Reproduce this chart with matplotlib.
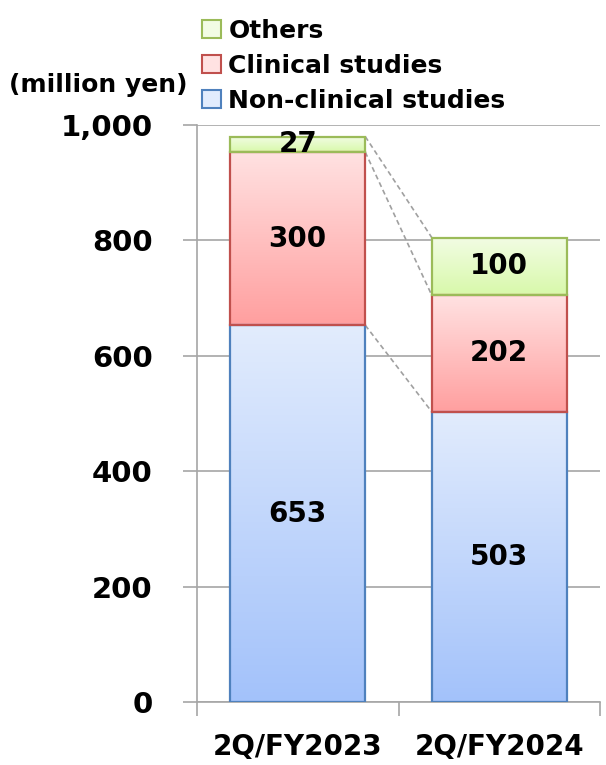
import numpy as np
import matplotlib.pyplot as plt
from matplotlib.colors import LinearSegmentedColormap
from matplotlib.patches import Rectangle, Patch

plt.rcParams['font.family'] = ['DejaVu Sans']
plt.rcParams['font.weight'] = 'bold'

periods = ["2Q/FY2023", "2Q/FY2024"]
non_clinical = [653, 503]
clinical = [300, 202]
others = [27, 100]

series = [
    ("Non-clinical studies", non_clinical, "#E2ECFD", "#A3C2FA", "#4F81BD"),
    ("Clinical studies", clinical, "#FFE2E2", "#FF9F9F", "#C0504D"),
    ("Others", others, "#F2FCE4", "#D8F9AA", "#9BBB59"),
]

fig = plt.figure(figsize=(6.06, 7.65), dpi=100)
ax = fig.add_axes([197 / 606, 1 - 702 / 765, 403 / 606, 577 / 765])

x = np.arange(len(periods))
width = 0.67
bottoms = np.zeros(len(periods))
tops = []
handles = []
grad = np.linspace(0, 1, 256).reshape(-1, 1)

for name, vals, c_top, c_bot, edge in series:
    cmap = LinearSegmentedColormap.from_list(name, [c_bot, c_top])
    bars = ax.bar(x, vals, width, bottom=bottoms, color="none",
                  edgecolor=edge, linewidth=1.6, zorder=3)
    for b, v, bt in zip(bars, vals, bottoms):
        x0 = b.get_x()
        im = ax.imshow(grad, cmap=cmap, origin="lower", aspect="auto",
                       extent=[x0, x0 + width, bt, bt + v], zorder=2)
        clip = Rectangle((x0, bt), width, v, transform=ax.transData)
        im.set_clip_path(clip)
        ax.text(x0 + width / 2, bt + v / 2, f"{v}", ha="center", va="center",
                fontsize=20, fontweight="bold", zorder=5)
    bottoms = bottoms + np.array(vals)
    tops.append(bottoms.copy())
    handles.append(Patch(facecolor=c_top, edgecolor=edge, lw=1.5, label=name))

# dashed connectors between segment tops
for t in tops:
    ax.plot([x[0] + width / 2, x[1] - width / 2], [t[0], t[1]],
            ls=(0, (3, 2)), color="#A0A0A0", lw=1.2, zorder=1)

ax.set_xlim(-0.5, 1.5)
ax.set_ylim(0, 1000)
ax.set_yticks(np.arange(0, 1001, 200))
ax.set_yticklabels(["0", "200", "400", "600", "800", "1,000"])
ax.yaxis.grid(True, color="#A6A6A6", lw=1.2, zorder=0)
ax.set_axisbelow(True)

ax.set_xticks([-0.5, 0.5, 1.5])
ax.set_xticklabels([])
ax.set_xticks(x, minor=True)
ax.set_xticklabels(periods, minor=True, fontsize=20, fontweight="bold")
ax.tick_params(axis="x", which="major", length=10, color="#A6A6A6", width=1.2)
ax.tick_params(axis="x", which="minor", length=0, pad=22)
ax.tick_params(axis="y", length=10, color="#A6A6A6", width=1.2, labelsize=21, pad=22)
for lbl in ax.get_yticklabels():
    lbl.set_fontweight("bold")

for s in ["top", "right"]:
    ax.spines[s].set_visible(False)
for s in ["left", "bottom"]:
    ax.spines[s].set_color("#A6A6A6")
    ax.spines[s].set_linewidth(1.2)

fig.legend(handles[::-1], [h.get_label() for h in handles[::-1]], loc="upper left",
           bbox_to_anchor=(202 / 606, 1 - 19 / 765), frameon=False,
           prop={"size": 18, "weight": "bold"}, handlelength=0.75,
           handleheight=0.75, handletextpad=0.3, labelspacing=0.44,
           borderaxespad=0, borderpad=0)

fig.text(98 / 606, 1 - 85 / 765, "(million yen)", ha="center", va="center",
         fontsize=18, fontweight="bold")

fig.savefig("out.png", dpi=100)
